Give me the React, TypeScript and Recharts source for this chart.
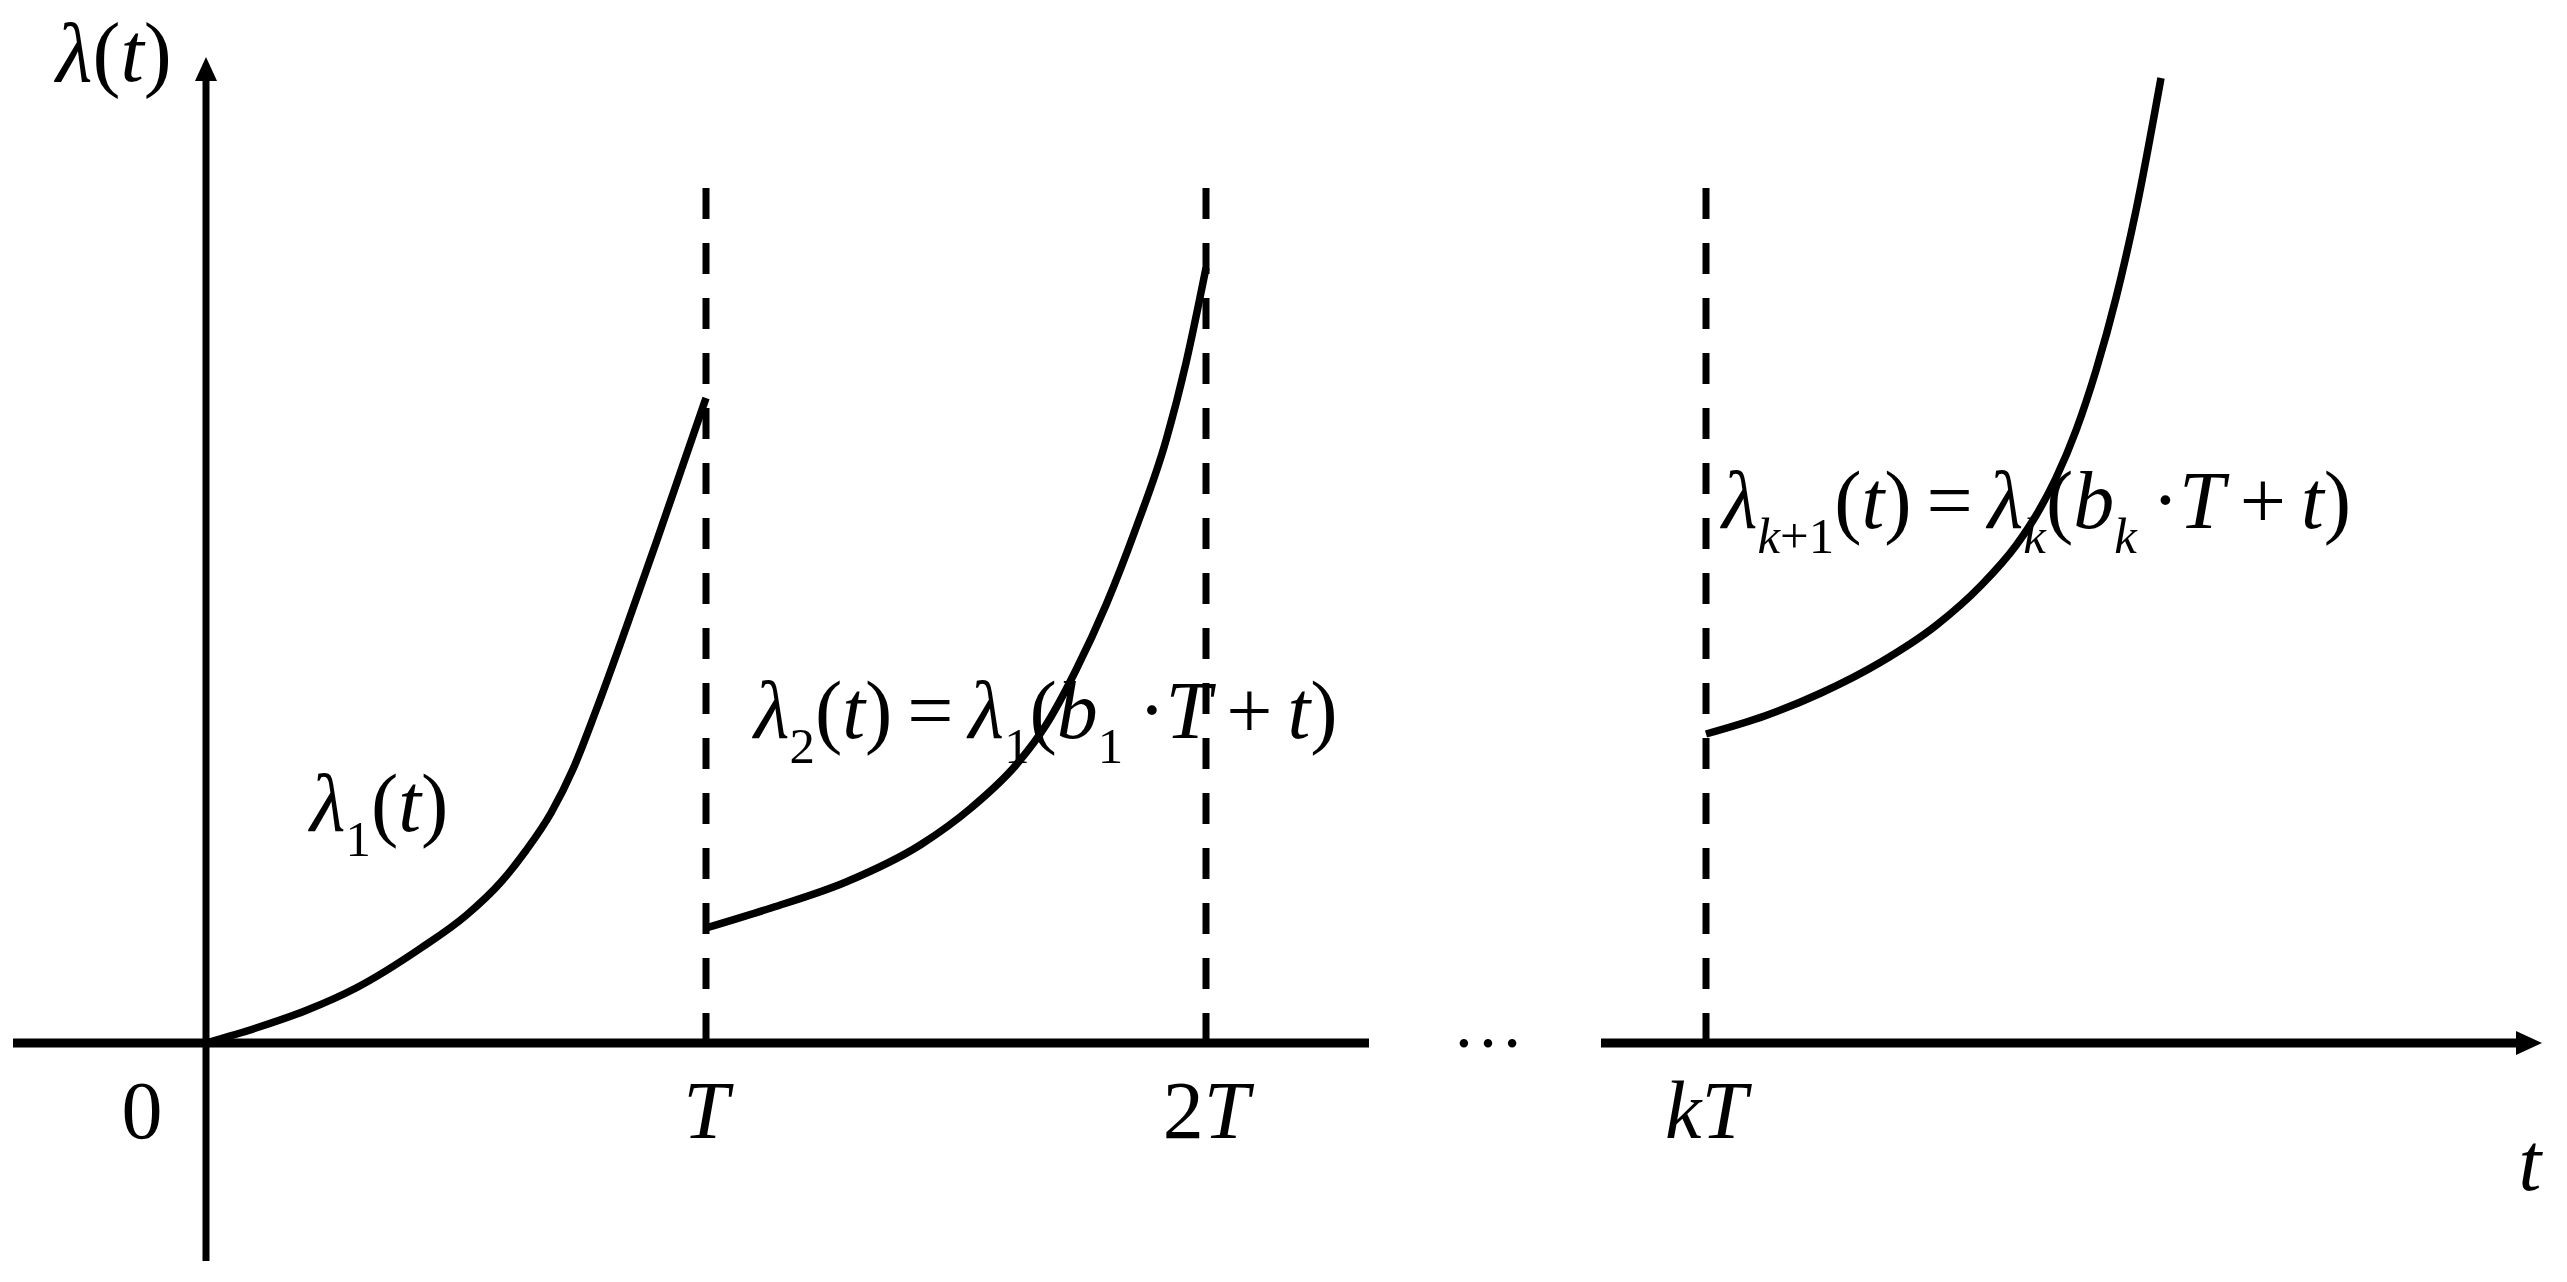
import React from 'react';
import { LineChart, Line, XAxis, YAxis, ReferenceLine, ReferenceDot } from 'recharts';

document.body.style.margin = '0';

const W = 2567;
const H = 1282;
const FONT = "'Liberation Serif', 'Times New Roman', serif";

// horizontal unit = one period T, vertical unit = same pixel size
const X_DOMAIN = [-0.412, 4.722];
const Y_DOMAIN = [-0.478, 2.086];

// lambda_1(t) on [0, T]
const SEG1_T = [0, 0.1, 0.2, 0.3, 0.43, 0.52, 0.59, 0.64, 0.69, 0.735, 0.78, 0.84, 0.9, 0.95, 1.0];
const SEG1_L = [0, 0.03, 0.065, 0.11, 0.19, 0.255, 0.322, 0.385, 0.46, 0.55, 0.665, 0.83, 1.0, 1.145, 1.29];

// lambda_2(t) on [T, 2T]
const SEG2_T = [1.0, 1.13, 1.28, 1.43, 1.53, 1.62, 1.68, 1.74, 1.8, 1.86, 1.92, 1.96, 2.0];
const SEG2_L = [0.23, 0.27, 0.322, 0.397, 0.47, 0.556, 0.636, 0.746, 0.876, 1.03, 1.205, 1.36, 1.55];

// lambda_{k+1}(t) from kT
const SEG3_T = [3.0, 3.12, 3.23, 3.35, 3.46, 3.55, 3.62, 3.66, 3.7, 3.74, 3.78, 3.82, 3.86, 3.91];
const SEG3_L = [0.618, 0.655, 0.7, 0.762, 0.835, 0.915, 0.995, 1.055, 1.13, 1.225, 1.345, 1.49, 1.665, 1.93];

const TICK_VALUES = [0, 1, 2, 3];
const TICK_LABELS = ['0', 'T', '2T', 'kT'];
const DASHED_AT = [1, 2, 3];
const DASH_TOP = 1.71;

type Tok = [string, string?];

const Y_TITLE: Tok[] = [['λ'], ['(t)']];
const LABEL_1: Tok[] = [['λ'], ['1', 'sub'], ['(t)']];
const LABEL_2: Tok[] = [['λ'], ['2', 'sub'], ['(t) = λ'], ['1', 'sub'], ['(b'], ['1', 'sub'], [' ·T + t)']];
const LABEL_K: Tok[] = [['λ'], ['k+1', 'sub'], ['(t) = λ'], ['k', 'sub'], ['(b'], ['k', 'sub'], [' ·T + t)']];

const toRows = (ts: number[], ls: number[]) => ts.map((t, i) => ({ t, v: ls[i] }));

// spaces become a fixed gap so the formulas keep the tight MathType look
function mathText(tokens: Tok[], size: number, anchor = 'start', gap = 15) {
  return (p: any) => {
    const parts: React.ReactNode[] = [];
    let shift = 0;
    let n = 0;
    let pendingGap = 0;
    tokens.forEach(([s, kind]) => {
      const sub = kind === 'sub';
      const target = sub ? size * 0.3 : 0;
      let dy = target - shift;
      shift = target;
      for (const ch of s) {
        if (ch === ' ') {
          pendingGap += gap;
          continue;
        }
        const italic = /[A-Za-zλ]/.test(ch);
        parts.push(
          <tspan
            key={n++}
            dy={dy !== 0 ? dy : undefined}
            dx={pendingGap || undefined}
            fontStyle={italic ? 'italic' : 'normal'}
            fontSize={sub ? size * 0.62 : size}
          >
            {ch}
          </tspan>,
        );
        dy = 0;
        pendingGap = 0;
      }
    });
    return (
      <text x={p.cx} y={p.cy} fontFamily={FONT} fill="#000" textAnchor={anchor}>
        {parts}
      </text>
    );
  };
}

const arrowUp = (p: any) => (
  <polygon points={`${p.cx},${p.cy} ${p.cx - 11},${p.cy + 24} ${p.cx + 11},${p.cy + 24}`} fill="#000" />
);
const arrowRight = (p: any) => (
  <polygon points={`${p.cx},${p.cy} ${p.cx - 26},${p.cy - 12} ${p.cx - 26},${p.cy + 12}`} fill="#000" />
);

export default function App() {
  const lineProps = {
    dataKey: 'v',
    type: 'monotone' as const,
    stroke: '#000',
    strokeWidth: 7.5,
    dot: false,
    activeDot: false,
    isAnimationActive: false,
  };

  return (
    <div style={{ position: 'absolute', left: 0, top: 0, width: W, height: H, background: '#fff' }}>
      <LineChart width={W} height={H} margin={{ top: 0, right: 0, bottom: 0, left: 0 }}>
        <XAxis type="number" dataKey="t" domain={X_DOMAIN} allowDataOverflow hide />
        <YAxis type="number" domain={Y_DOMAIN} allowDataOverflow hide />

        {/* axes */}
        <ReferenceLine segment={[{ x: 0, y: -0.436 }, { x: 0, y: 1.93 }]} stroke="#000" strokeWidth={7} />
        <ReferenceLine segment={[{ x: -0.386, y: 0 }, { x: 2.326, y: 0 }]} stroke="#000" strokeWidth={9} />
        <ReferenceLine segment={[{ x: 2.79, y: 0 }, { x: 4.63, y: 0 }]} stroke="#000" strokeWidth={9} />
        <ReferenceDot x={0} y={1.972} r={1} shape={arrowUp} />
        <ReferenceDot x={4.672} y={0} r={1} shape={arrowRight} />

        {DASHED_AT.map((x) => (
          <ReferenceLine
            key={x}
            segment={[{ x, y: DASH_TOP }, { x, y: 0 }]}
            stroke="#000"
            strokeWidth={7}
            strokeDasharray="31 24"
          />
        ))}

        <Line {...lineProps} data={toRows(SEG1_T, SEG1_L)} />
        <Line {...lineProps} data={toRows(SEG2_T, SEG2_L)} />
        <Line {...lineProps} data={toRows(SEG3_T, SEG3_L)} />

        {/* tick labels */}
        {TICK_VALUES.map((x, i) => (
          <ReferenceDot
            key={'tick' + x}
            x={x === 0 ? -0.128 : x}
            y={-0.19}
            r={1}
            shape={mathText([[TICK_LABELS[i]]], 82, 'middle')}
          />
        ))}
        <ReferenceDot x={4.625} y={-0.294} r={1} shape={mathText([['t']], 82)} />
        <ReferenceDot x={2.492} y={-0.008} r={1} shape={mathText([['…']], 72)} />

        <ReferenceDot x={-0.3} y={1.924} r={1} shape={mathText(Y_TITLE, 84)} />
        <ReferenceDot x={0.208} y={0.424} r={1} shape={mathText(LABEL_1, 82)} />
        <ReferenceDot x={1.096} y={0.61} r={1} shape={mathText(LABEL_2, 82)} />
        <ReferenceDot x={3.032} y={1.03} r={1} shape={mathText(LABEL_K, 82)} />
      </LineChart>
    </div>
  );
}
